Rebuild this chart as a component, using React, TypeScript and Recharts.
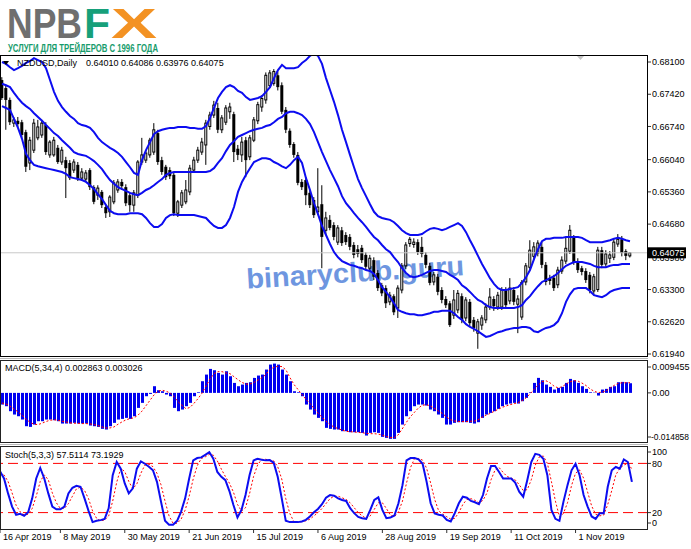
import React from 'react';
import { ComposedChart, Bar, Line, XAxis, YAxis, ReferenceLine } from 'recharts';

const FONT = '"Liberation Sans", Arial, sans-serif';

// ---- NZDUSD daily candles, prices in pips (x 0.0001) ----
const OPEN = [
  6772,6755,6730,6681,6686,6683,6662,6597,6624,6650,
  6656,6677,6614,6614,6629,6599,6603,6597,6582,6593,
  6565,6563,6582,6546,6529,6536,6504,6494,6515,6540,
  6557,6546,6529,6508,6529,6599,6603,6614,6620,6660,
  6603,6589,6582,6572,6491,6508,6515,6536,6582,6603,
  6620,6635,6674,6698,6713,6667,6683,6705,6700,6627,
  6614,6645,6610,6645,6686,6715,6730,6760,6765,6782,
  6761,6709,6665,6637,6614,6557,6561,6534,6519,6494,
  6510,6455,6477,6466,6430,6455,6445,6441,6424,6415,
  6418,6403,6375,6392,6365,6339,6333,6304,6316,6291,
  6329,6380,6427,6425,6430,6420,6403,6380,6346,6357,
  6329,6310,6301,6276,6287,6316,6270,6304,6266,6238,
  6255,6266,6293,6310,6293,6293,6329,6306,6329,6299,
  6272,6346,6377,6400,6407,6420,6382,6354,6355,6340,
  6369,6390,6411,6440,6390,6375,6369,6361,6327,6330,
  6413,6384,6396,6398,6426,6436,6411,6401,
];
const HIGH = [
  6778,6761,6735,6694,6694,6688,6667,6652,6690,6688,
  6688,6683,6645,6652,6635,6631,6610,6603,6605,6599,
  6586,6582,6586,6550,6550,6540,6510,6529,6561,6563,
  6563,6552,6534,6540,6603,6650,6624,6650,6681,6667,
  6610,6593,6588,6578,6519,6540,6561,6593,6610,6631,
  6650,6688,6705,6728,6724,6698,6719,6724,6705,6635,
  6652,6652,6656,6694,6726,6740,6788,6793,6795,6790,
  6767,6715,6670,6641,6620,6563,6567,6540,6525,6586,
  6550,6494,6487,6472,6466,6462,6451,6447,6430,6424,
  6424,6409,6403,6398,6371,6344,6339,6325,6320,6339,
  6386,6430,6441,6438,6436,6441,6409,6386,6367,6363,
  6335,6316,6306,6329,6329,6322,6314,6310,6272,6268,
  6276,6301,6333,6316,6325,6335,6335,6354,6335,6318,
  6350,6386,6434,6430,6434,6430,6388,6361,6361,6378,
  6400,6441,6466,6445,6396,6380,6375,6367,6363,6420,
  6420,6413,6411,6436,6447,6443,6415,6408.6,
];
const LOW = [
  6730,6667,6677,6673,6673,6650,6578,6582,6618,6645,
  6650,6614,6608,6610,6595,6593,6523,6561,6576,6559,
  6559,6557,6540,6510,6519,6502,6481,6483,6510,6534,
  6540,6506,6494,6494,6523,6593,6597,6608,6614,6593,
  6572,6561,6563,6485,6483,6502,6510,6529,6576,6597,
  6614,6593,6667,6692,6660,6660,6677,6690,6599,6603,
  6599,6567,6603,6641,6679,6705,6722,6755,6760,6750,
  6700,6660,6629,6608,6550,6540,6508,6502,6481,6487,
  6375,6445,6455,6434,6424,6422,6424,6413,6396,6398,
  6386,6371,6367,6350,6327,6316,6291,6297,6276,6270,
  6322,6373,6420,6418,6403,6398,6375,6339,6339,6318,
  6301,6291,6251,6268,6280,6259,6263,6253,6241,6205,
  6245,6259,6287,6285,6287,6287,6291,6299,6297,6238,
  6266,6339,6371,6392,6400,6375,6339,6340,6327,6333,
  6363,6384,6405,6382,6365,6360,6344,6322,6318,6325,
  6375,6378,6386,6392,6420,6400,6392,6397.6,
];
const CLOSE = [
  6734,6730,6683,6688,6679,6656,6589,6645,6681,6673,
  6681,6620,6641,6645,6599,6624,6586,6565,6599,6565,
  6578,6576,6546,6515,6544,6508,6491,6525,6555,6557,
  6548,6512,6508,6534,6599,6614,6618,6645,6667,6599,
  6578,6567,6569,6491,6515,6534,6540,6586,6603,6624,
  6641,6681,6698,6719,6667,6692,6713,6715,6620,6614,
  6641,6603,6650,6688,6720,6733,6782,6787,6790,6757,
  6705,6667,6635,6614,6555,6546,6529,6508,6487,6504,
  6441,6481,6460,6441,6460,6428,6430,6420,6403,6405,
  6392,6378,6396,6357,6333,6322,6301,6318,6282,6333,
  6380,6424,6436,6430,6409,6405,6382,6344,6361,6325,
  6308,6297,6255,6308,6322,6266,6308,6259,6249,6262,
  6270,6293,6314,6295,6318,6329,6297,6333,6304,6310,
  6345,6380,6413,6420,6428,6382,6346,6348,6333,6371,
  6392,6417,6455,6388,6371,6367,6350,6329,6357,6413,
  6382,6405,6403,6430,6436,6407,6401,6407.5,
];

// ---- Bollinger Bands, pips ----
const BB_UPPER = [
  6810,6806,6799,6793,6797,6802,6808,6812,6818,6814,
  6810,6797,6772,6747,6728,6715,6705,6696,6690,6681,
  6677,6675,6671,6662,6650,6641,6635,6629,6624,6618,
  6610,6599,6588,6576,6572,6603,6624,6641,6658,6664,
  6667,6669,6671,6671,6673,6673,6673,6671,6671,6669,
  6669,6675,6692,6713,6734,6747,6757,6761,6757,6749,
  6745,6736,6730,6732,6734,6738,6747,6757,6776,6793,
  6804,6797,6797,6797,6799,6808,6814,6823,6829,6823,
  6806,6776,6751,6726,6698,6667,6641,6614,6588,6563,
  6544,6527,6510,6494,6485,6481,6479,6477,6472,6464,
  6455,6449,6445,6445,6445,6447,6453,6458,6460,6458,
  6455,6458,6462,6466,6470,6464,6451,6434,6418,6401,
  6384,6369,6354,6342,6333,6329,6329,6331,6333,6335,
  6344,6356,6371,6394,6415,6432,6437,6437,6439,6439,
  6439,6441,6441,6441,6441,6439,6434,6430,6430,6430,
  6430,6432,6434,6437,6439,6437,6434,6432,
];
const BB_MIDDLE = [
  6764,6761,6757,6745,6734,6724,6717,6711,6702,6694,
  6686,6677,6669,6660,6654,6645,6637,6629,6620,6616,
  6614,6612,6607,6601,6593,6584,6572,6561,6553,6546,
  6542,6538,6534,6531,6529,6534,6540,6544,6550,6557,
  6563,6572,6576,6578,6578,6578,6578,6578,6578,6578,
  6578,6578,6580,6586,6597,6607,6622,6635,6643,6652,
  6656,6660,6664,6667,6669,6671,6675,6677,6683,6690,
  6694,6702,6705,6705,6702,6698,6690,6679,6662,6641,
  6620,6601,6582,6565,6548,6527,6512,6502,6491,6481,
  6472,6462,6451,6441,6434,6424,6415,6409,6398,6388,
  6375,6365,6358,6356,6358,6361,6365,6369,6371,6371,
  6369,6367,6361,6356,6350,6339,6333,6325,6316,6308,
  6304,6297,6293,6291,6291,6291,6291,6291,6291,6293,
  6297,6308,6316,6327,6337,6346,6350,6354,6358,6365,
  6373,6380,6384,6388,6388,6388,6386,6384,6380,6377,
  6377,6377,6380,6382,6382,6384,6384,6384,
];
const BB_LOWER = [
  6717,6713,6709,6690,6671,6648,6616,6603,6593,6590,
  6588,6586,6584,6582,6580,6578,6574,6567,6565,6563,
  6561,6557,6550,6542,6531,6521,6508,6496,6491,6489,
  6489,6489,6491,6491,6491,6489,6481,6470,6462,6462,
  6468,6481,6487,6489,6487,6487,6487,6487,6487,6485,
  6483,6481,6472,6464,6460,6460,6466,6481,6504,6536,
  6557,6572,6586,6599,6603,6607,6607,6605,6599,6595,
  6590,6586,6593,6603,6610,6597,6565,6540,6512,6489,
  6464,6445,6426,6409,6398,6390,6386,6382,6380,6377,
  6375,6371,6369,6363,6350,6335,6325,6314,6301,6287,
  6283,6280,6278,6278,6276,6276,6278,6280,6283,6283,
  6285,6285,6285,6280,6272,6266,6257,6251,6247,6242,
  6236,6230,6232,6236,6240,6242,6245,6247,6249,6249,
  6251,6251,6249,6242,6240,6245,6249,6251,6255,6263,
  6280,6304,6320,6331,6333,6333,6333,6327,6318,6316,
  6314,6318,6325,6329,6331,6333,6333,6333,
];

// ---- MACD(5,34,4), x 0.001 ----
const MACD_MAIN = [
  -3.46,-3.95,-5.43,-6.42,-6.92,-7.90,-9.88,-10.08,-9.39,-8.40,
  -8.40,-7.90,-7.90,-8.10,-8.40,-9.09,-9.09,-9.09,-8.89,-9.09,
  -9.09,-9.09,-9.68,-9.88,-10.08,-10.67,-10.87,-9.88,-8.89,-7.90,
  -7.71,-7.41,-7.71,-6.92,-4.45,-2.96,-0.99,-0.30,1.98,0.79,
  0.49,-0.49,-0.99,-4.45,-5.43,-4.94,-3.95,-2.96,-0.99,0.20,
  3.46,5.43,7.11,6.72,5.93,5.43,6.42,4.94,2.96,1.98,
  2.47,2.96,3.16,4.45,5.14,5.43,6.92,8.40,8.69,8.40,
  6.92,5.43,3.46,0.49,0.20,-0.99,-3.46,-4.94,-6.42,-7.41,
  -8.40,-10.37,-10.67,-10.87,-10.87,-11.36,-11.36,-11.66,-11.66,-11.66,
  -11.86,-12.65,-11.86,-11.66,-11.86,-13.04,-13.34,-13.63,-13.63,-11.86,
  -9.39,-6.92,-5.43,-3.95,-3.46,-3.46,-3.75,-4.94,-5.43,-6.42,
  -7.41,-9.39,-9.39,-8.89,-8.69,-8.69,-8.69,-8.89,-9.09,-8.69,
  -7.41,-6.42,-5.93,-5.43,-4.74,-3.95,-3.46,-3.16,-2.96,-3.16,
  -2.47,-1.48,0.20,2.96,4.45,3.75,2.47,1.78,0.99,1.48,
  1.78,2.96,4.15,3.75,2.96,1.98,1.19,0.20,0.10,-0.79,
  0.99,1.19,1.78,1.98,3.16,3.26,3.16,2.863,
];
const MACD_SIGNAL = [
  -3.0,-3.3,-3.9,-4.8,-5.6,-6.6,-7.8,-8.7,-9.3,-9.4,
  -9.0,-8.5,-8.1,-8.0,-8.1,-8.4,-8.6,-8.9,-9.0,-9.0,
  -9.1,-9.1,-9.2,-9.4,-9.7,-10.1,-10.4,-10.4,-10.1,-9.3,
  -8.6,-8.0,-7.6,-7.4,-6.6,-5.4,-3.8,-2.2,-0.6,0.5,
  0.8,0.5,0.0,-1.1,-2.6,-3.7,-4.7,-4.3,-3.1,-1.7,
  -0.1,2.0,4.1,5.7,6.3,6.3,5.9,5.7,4.8,3.9,
  3.1,2.6,2.6,3.1,3.8,4.5,5.5,7.0,7.6,7.9,
  7.8,6.8,4.5,2.5,1.0,-0.5,-1.9,-3.2,-4.6,-6.0,
  -7.2,-8.4,-9.4,-10.1,-10.6,-11.0,-11.4,-11.5,-11.6,-11.7,
  -11.8,-12.0,-12.1,-12.1,-12.2,-12.5,-12.9,-13.2,-13.3,-12.5,
  -10.8,-8.9,-7.2,-5.9,-4.6,-3.7,-3.5,-3.8,-4.5,-5.3,
  -6.0,-7.0,-7.9,-8.3,-8.5,-8.5,-8.5,-8.4,-8.4,-8.0,
  -7.2,-6.6,-6.1,-5.5,-4.9,-4.3,-3.9,-3.5,-3.2,-2.9,
  -2.3,-1.5,-0.3,1.0,2.3,3.3,3.6,3.0,2.0,1.5,
  1.8,2.6,3.3,3.6,3.5,2.9,2.2,1.2,0.5,0.1,
  0.2,0.6,1.4,2.2,2.8,3.0,3.0,3.026,
];

// ---- Stochastic(5,3,3) ----
const STOCH_K = [
  70.4,61.6,43.4,27.3,17.3,18.5,16.1,20.5,37.4,61.6,
  74.4,61.6,43.4,27.3,24.1,24.1,27.3,43.4,50.3,52.7,
  51.5,37.4,22.1,8.4,10.0,10.8,12.4,25.3,65.6,81.7,
  73.6,55.5,43.4,49.5,73.6,82.5,79.6,76.0,71.6,57.5,
  33.4,10.0,5.2,5.2,10.0,21.3,37.4,61.6,83.7,86.5,
  87.3,90.5,93.8,85.7,69.6,63.6,59.5,46.3,29.3,14.0,
  23.3,41.4,65.6,83.7,85.7,84.5,83.7,84.1,80.9,63.6,
  37.4,10.0,8.4,8.4,8.4,9.2,11.2,15.3,20.5,24.5,
  30.2,38.2,41.4,40.6,37.4,35.4,34.2,25.3,19.3,14.8,
  13.2,12.4,23.3,35.4,38.6,23.3,13.2,14.0,16.5,31.4,
  53.5,83.7,86.5,86.5,84.9,79.6,57.5,31.4,18.9,17.3,
  16.5,11.2,9.2,19.3,31.4,39.4,38.2,34.2,32.6,30.2,
  41.4,61.6,76.8,76.8,69.6,61.6,61.6,61.6,56.7,45.5,
  39.4,59.5,81.7,91.7,90.5,85.7,65.6,23.3,12.4,10.0,
  33.4,53.5,71.6,79.6,65.6,41.4,27.3,15.3,12.4,19.3,
  19.3,51.5,71.6,75.6,73.6,84.9,81.7,57.5114,
];
const STOCH_D = [
  68,66,58,44,29,21,17,18,25,40,
  58,66,60,44,32,25,25,31,40,49,
  51,47,37,22,13,10,11,16,34,57,
  74,70,58,49,55,68,78,79,76,68,
  54,34,16,7,7,12,23,40,61,77,
  86,88,91,90,83,73,64,56,45,30,
  22,26,43,64,78,85,85,84,83,76,
  61,37,19,9,8,9,10,12,16,20,
  25,31,37,40,40,38,36,32,26,20,
  16,13,16,24,32,32,25,17,15,21,
  34,56,75,86,86,84,74,56,36,22,
  18,15,12,13,20,30,36,37,35,32,
  35,44,60,72,75,69,64,62,60,54,
  47,48,60,78,88,89,80,58,34,15,
  19,32,53,68,72,62,45,28,18,16,
  17,30,47,66,74,78,80,73.1929,
];

// ---- axes / labels ----
const DATE_TICK_INDEX = [0, 15, 31, 47, 63, 79, 95, 111, 127, 143];
const DATE_TICK_LABEL = ['16 Apr 2019', '8 May 2019', '30 May 2019', '21 Jun 2019', '15 Jul 2019', '6 Aug 2019', '28 Aug 2019', '19 Sep 2019', '11 Oct 2019', '1 Nov 2019'];
const PRICE_TICKS = [0.681, 0.6742, 0.6674, 0.6604, 0.6536, 0.6468, 0.6398, 0.633, 0.6262, 0.6194];
const LAST_PRICE = 0.64075;
const PRICE_DOMAIN = [0.618767, 0.682477];
const MACD_TICKS = [0.009455, 0, -0.014858];
const MACD_DOMAIN = [-0.014858, 0.009455];
const STOCH_TICKS = [100, 80, 20, 0];
const STOCH_LEVELS = [80, 20];
const EMPTY_SLOTS = 4;

const rows: any[] = OPEN.map((o, i) => ({
  i,
  o: o / 1e4,
  h: HIGH[i] / 1e4,
  l: LOW[i] / 1e4,
  c: CLOSE[i] / 1e4,
  up: BB_UPPER[i] / 1e4,
  mid: BB_MIDDLE[i] / 1e4,
  lo: BB_LOWER[i] / 1e4,
  macd: MACD_MAIN[i] / 1e3,
  sig: MACD_SIGNAL[i] / 1e3,
  k: STOCH_K[i],
  d: STOCH_D[i],
}));
for (let j = 0; j < EMPTY_SLOTS; j++) rows.push({ i: OPEN.length + j });

const BLUE = '#0c0cf0';
const RED = '#ff0000';

function Candle(props: any) {
  const { x, y, width, height, payload } = props;
  if (!payload || payload.o == null) return null;
  const top = Math.min(y, y + height);
  const bot = Math.max(y, y + height);
  const range = payload.h - payload.l;
  const k = range > 0 ? (bot - top) / range : 0;
  const cx = x + width / 2;
  const bTop = top + (payload.h - Math.max(payload.o, payload.c)) * k;
  const bBot = top + (payload.h - Math.min(payload.o, payload.c)) * k;
  const bull = payload.c >= payload.o;
  const bh = Math.max(bBot - bTop, 1);
  return (
    <g>
      <line x1={cx} x2={cx} y1={top} y2={bot} stroke="#000" strokeWidth={1} />
      {bull ? (
        <rect x={cx - 1} y={bTop} width={2} height={bh} fill="#fff" stroke="#000" strokeWidth={1} />
      ) : (
        <rect x={cx - 1.5} y={bTop} width={3} height={bh} fill="#000" />
      )}
    </g>
  );
}

function PriceTick(props: any) {
  const { x, y, payload } = props;
  const v = payload.value;
  if (v === LAST_PRICE) {
    return (
      <g>
        <rect x={x - 4} y={y - 5.5} width={38} height={11} fill="#000" />
        <text x={x} y={y} dy="0.36em" fontSize={9} fontFamily={FONT} fill="#fff">{v.toFixed(5)}</text>
      </g>
    );
  }
  return (
    <g>
      <line x1={x - 4} x2={x - 1} y1={y} y2={y} stroke="#333" />
      <text x={x} y={y} dy="0.36em" fontSize={9} fontFamily={FONT} fill="#000">{v.toFixed(5)}</text>
    </g>
  );
}

function makeSideTick(fmt: (v: number) => string, shift: (v: number) => number, fit?: (v: number) => number | undefined) {
  return function SideTick(props: any) {
    const { x, y, payload } = props;
    const v = payload.value;
    const yy = y + shift(v);
    const len = fit ? fit(v) : undefined;
    return (
      <g>
        <line x1={x - 4} x2={x - 1} y1={yy} y2={yy} stroke="#333" />
        <text x={len ? x - 1 : x} y={yy} dy="0.36em" fontSize={9} fontFamily={FONT} fill="#000"
          textLength={len} lengthAdjust={len ? 'spacingAndGlyphs' : undefined}>{fmt(v)}</text>
      </g>
    );
  };
}

const MacdTick = makeSideTick(
  (v) => (v === 0 ? '0.00' : v.toFixed(6)),
  (v) => (v === MACD_DOMAIN[1] ? 6 : v === MACD_DOMAIN[0] ? -6 : 0),
  (v) => (v < 0 ? 38 : undefined)
);
const StochTick = makeSideTick(
  (v) => String(v),
  (v) => (v === 100 ? 5 : v === 0 ? -6 : 0)
);

function DateTick(props: any) {
  const { x, y, payload } = props;
  const idx = DATE_TICK_INDEX.indexOf(payload.value);
  if (idx < 0) return null;
  return (
    <g>
      <line x1={x} x2={x} y1={y} y2={y + 4} stroke="#333" />
      <text x={x + 3} y={y + 11} fontSize={9} fontFamily={FONT} fill="#000">{DATE_TICK_LABEL[idx]}</text>
    </g>
  );
}

const M0 = { top: 0, right: 0, bottom: 0, left: 0 };
const M_MAIN = { top: 0, right: 0, bottom: 8, left: 0 };

export default function App() {
  return (
    <div style={{ position: 'absolute', left: 0, top: 0, width: 691, height: 549, background: '#fff', overflow: 'hidden', fontFamily: FONT }}>
      {/* watermark behind the chart */}
      <svg width={691} height={549} style={{ position: 'absolute', left: 0, top: 0 }}>
        <text x={247} y={288.5} transform="rotate(-3.5 247 288.5)" fontFamily={FONT} fontWeight="bold" fontSize={28}
          fill="#6e96e0" textLength={218} lengthAdjust="spacingAndGlyphs">binaryclub.guru</text>
      </svg>

      <div style={{ position: 'absolute', left: 0, top: 55 }}>
        <ComposedChart width={691} height={310} data={rows} margin={M_MAIN} barCategoryGap={0} barGap={0}>
          <XAxis dataKey="i" type="category" hide />
          <YAxis orientation="right" width={43} type="number" domain={PRICE_DOMAIN} allowDataOverflow
            ticks={[...PRICE_TICKS, LAST_PRICE]} interval={0} tick={<PriceTick />} tickLine={false} axisLine={false}
            tickSize={3} tickMargin={1} />
          <ReferenceLine y={LAST_PRICE} stroke="#c8c8c8" strokeWidth={1} ifOverflow="hidden" />
          <Bar dataKey={(r: any) => (r.h == null ? null : [r.l, r.h])} barSize={4} shape={<Candle />} isAnimationActive={false} />
          <Line type="linear" dataKey="up" stroke={BLUE} strokeWidth={2} dot={false} isAnimationActive={false} />
          <Line type="linear" dataKey="mid" stroke={BLUE} strokeWidth={2} dot={false} isAnimationActive={false} />
          <Line type="linear" dataKey="lo" stroke={BLUE} strokeWidth={2} dot={false} isAnimationActive={false} />
        </ComposedChart>
      </div>

      <div style={{ position: 'absolute', left: 0, top: 361 }}>
        <ComposedChart width={691} height={82} data={rows} margin={M0} barCategoryGap={0} barGap={0}>
          <XAxis dataKey="i" type="category" hide />
          <YAxis orientation="right" width={43} type="number" domain={MACD_DOMAIN} allowDataOverflow
            ticks={MACD_TICKS} interval={0} tick={<MacdTick />} tickLine={false} axisLine={false} tickSize={3} tickMargin={1} />
          <Bar dataKey="macd" barSize={3} fill="#0000f0" isAnimationActive={false} />
          <Line type="linear" dataKey="sig" stroke={RED} strokeWidth={1} strokeDasharray="2 2" dot={false} isAnimationActive={false} />
        </ComposedChart>
      </div>

      <div style={{ position: 'absolute', left: 0, top: 447 }}>
        <ComposedChart width={691} height={102} data={rows} margin={M0} barCategoryGap={0} barGap={0}>
          <XAxis dataKey="i" type="category" height={20} ticks={DATE_TICK_INDEX} interval={0} tick={<DateTick />}
            tickLine={false} axisLine={false} tickSize={0} tickMargin={0} />
          <YAxis orientation="right" width={43} type="number" domain={[0, 100]} allowDataOverflow
            ticks={STOCH_TICKS} interval={0} tick={<StochTick />} tickLine={false} axisLine={false} tickSize={3} tickMargin={1} />
          {STOCH_LEVELS.map((lv) => (
            <ReferenceLine key={lv} y={lv} stroke={RED} strokeWidth={1} strokeDasharray="10 5" />
          ))}
          <Line type="linear" dataKey="d" stroke={RED} strokeWidth={1} strokeDasharray="2 2" dot={false} isAnimationActive={false} />
          <Line type="linear" dataKey="k" stroke={BLUE} strokeWidth={2} dot={false} isAnimationActive={false} />
        </ComposedChart>
      </div>

      {/* frames, logo and titles */}
      <svg width={691} height={549} style={{ position: 'absolute', left: 0, top: 0, pointerEvents: 'none' }}>
        <text x={7} y={38} fontFamily={FONT} fontWeight="bold" fontSize={42} fill="#6f6f6f" textLength={75} lengthAdjust="spacingAndGlyphs">NPB</text>
        <text x={84} y={38} fontFamily={FONT} fontWeight="bold" fontSize={42} fill="#16a07a" textLength={26} lengthAdjust="spacingAndGlyphs">F</text>
        <text x={111} y={38} fontFamily={FONT} fontWeight="bold" fontSize={42} fill="#f39223" textLength={46} lengthAdjust="spacingAndGlyphs">X</text>
        <text x={8} y={51.5} fontFamily={FONT} fontWeight="bold" fontSize={10.5} fill="#179c6c" textLength={150} lengthAdjust="spacingAndGlyphs">УСЛУГИ ДЛЯ ТРЕЙДЕРОВ С 1996 ГОДА</text>

        <rect x={0.5} y={55.5} width={647} height={301} fill="none" stroke="#000" strokeWidth={1} />
        <line x1={0} x2={648} y1={358.5} y2={358.5} stroke="#b8b8b8" />
        <rect x={0.5} y={360.5} width={647} height={82} fill="none" stroke="#222" strokeWidth={1} />
        <line x1={0} x2={648} y1={444.5} y2={444.5} stroke="#b8b8b8" />
        <rect x={0.5} y={446.5} width={647} height={83} fill="none" stroke="#222" strokeWidth={1} />

        <polygon points="577,56 584,56 580.5,60" fill="#c4c4c4" />
        <polygon points="3,61 9,61 6,65" fill="#000" />
        <text x={17} y={66} fontFamily={FONT} fontSize={9} fill="#000">NZDUSD,Daily</text>
        <text x={86} y={66} fontFamily={FONT} fontSize={9} fill="#000">0.64010 0.64086 0.63976 0.64075</text>
        <text x={5} y={371} fontFamily={FONT} fontSize={9} fill="#000">MACD(5,34,4) 0.002863 0.003026</text>
        <text x={5} y={457.5} fontFamily={FONT} fontSize={9} fill="#000">Stoch(5,3,3) 57.5114 73.1929</text>
      </svg>
    </div>
  );
}
